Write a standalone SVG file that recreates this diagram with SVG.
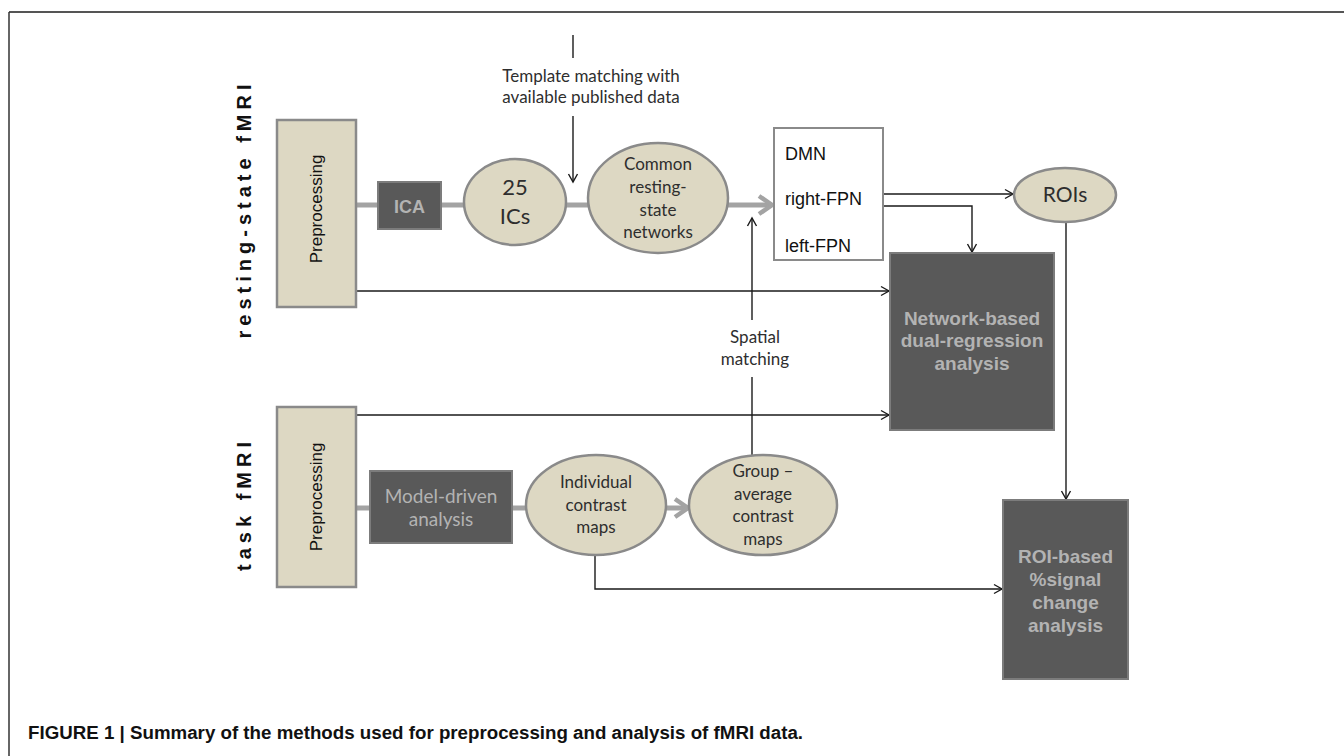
<svg xmlns="http://www.w3.org/2000/svg" width="1344" height="756" viewBox="0 0 1344 756">
<style>
.beige{fill:#ddd8c3;stroke:#8a8a8a;stroke-width:2.5}
.dark{fill:#595959;stroke:#7c7c7c;stroke-width:2}
.white{fill:#ffffff;stroke:#8a8a8a;stroke-width:2}
.thin{fill:none;stroke:#1a1a1a;stroke-width:1.4}
.thick{fill:none;stroke:#a3a3a3;stroke-width:5}
.cal{font-family:Lato,"Open Sans",sans-serif;fill:#2e2e2e;text-anchor:middle}
.ar{font-family:"Liberation Sans",Arial,sans-serif;fill:#111}
.darktxt{font-family:"Liberation Sans",Arial,sans-serif;font-weight:bold;fill:#b3b3b3;text-anchor:middle}
.side{font-family:"Liberation Sans",Arial,sans-serif;font-weight:bold;font-size:20px;letter-spacing:5px;fill:#111;text-anchor:middle}
</style>
<defs>
<marker id="ah" markerUnits="userSpaceOnUse" markerWidth="12" markerHeight="12" refX="9" refY="6" orient="auto">
<path d="M1,1.5 L9,6 L1,10.5" fill="none" stroke="#1a1a1a" stroke-width="1.4"/>
</marker>
<marker id="ahThick" markerUnits="userSpaceOnUse" markerWidth="20" markerHeight="24" refX="16" refY="12" orient="auto">
<path d="M3,3 L16,12 L3,21" fill="none" stroke="#a3a3a3" stroke-width="4.5"/>
</marker>
</defs>
<rect x="0" y="0" width="1344" height="756" fill="#ffffff"/>
<g id="frame">
<line x1="9" y1="12" x2="1344" y2="12" stroke="#555" stroke-width="2"/>
<line x1="9" y1="12" x2="9" y2="756" stroke="#333" stroke-width="1.5"/>
</g>
<g id="connectors">
<line class="thick" x1="356" y1="205" x2="772" y2="205" marker-end="url(#ahThick)"/>
<line class="thick" x1="356" y1="508" x2="688" y2="508" marker-end="url(#ahThick)"/>
<line class="thin" x1="573" y1="35" x2="573" y2="58"/>
<line class="thin" x1="573" y1="116" x2="573" y2="182" marker-end="url(#ah)"/>
<line class="thin" x1="752" y1="320" x2="752" y2="218" marker-end="url(#ah)"/>
<line class="thin" x1="752" y1="456" x2="752" y2="377"/>
<line class="thin" x1="356" y1="291" x2="889" y2="291" marker-end="url(#ah)"/>
<line class="thin" x1="356" y1="415" x2="889" y2="415" marker-end="url(#ah)"/>
<line class="thin" x1="883" y1="194" x2="1013" y2="194" marker-end="url(#ah)"/>
<polyline class="thin" points="883,206 972,206 972,252" marker-end="url(#ah)"/>
<line class="thin" x1="1066" y1="222" x2="1066" y2="499" marker-end="url(#ah)"/>
<polyline class="thin" points="595,555 595,589 1002,589" marker-end="url(#ah)"/>
</g>
<g id="label-rest"><text class="side" transform="translate(251,209) rotate(-90)">resting-state fMRI</text></g>
<g id="label-task"><text class="side" transform="translate(251,504) rotate(-90)">task fMRI</text></g>
<g id="label-template">
<text class="cal" x="591" y="82" font-size="17">Template matching with</text>
<text class="cal" x="591" y="103" font-size="17">available published data</text>
</g>
<g id="label-spatial">
<text class="cal" x="755" y="343" font-size="17">Spatial</text>
<text class="cal" x="755" y="365" font-size="17">matching</text>
</g>
<g id="rest-preprocessing">
<rect class="beige" x="277" y="120" width="79" height="187"/>
<text class="ar" font-size="17" text-anchor="middle" transform="translate(322,209) rotate(-90)">Preprocessing</text>
</g>
<g id="ica">
<rect class="dark" x="378" y="182" width="63" height="47"/>
<text class="darktxt" x="409.5" y="213" font-size="18">ICA</text>
</g>
<g id="ics">
<ellipse class="beige" cx="515" cy="202" rx="51" ry="43"/>
<text class="cal" x="515" y="195" font-size="22">25</text>
<text class="cal" x="515" y="224" font-size="22">ICs</text>
</g>
<g id="common">
<ellipse class="beige" cx="658" cy="198" rx="70" ry="55"/>
<text class="cal" x="658" y="170" font-size="17">Common</text>
<text class="cal" x="658" y="193" font-size="17">resting-</text>
<text class="cal" x="658" y="216" font-size="17">state</text>
<text class="cal" x="658" y="238" font-size="17">networks</text>
</g>
<g id="networks">
<rect class="white" x="774" y="128" width="109" height="132"/>
<text class="ar" x="785" y="160" font-size="18">DMN</text>
<text class="ar" x="785" y="205" font-size="18">right-FPN</text>
<text class="ar" x="785" y="252" font-size="18">left-FPN</text>
</g>
<g id="rois">
<ellipse class="beige" cx="1065" cy="195" rx="51" ry="27"/>
<text class="cal" x="1065" y="202" font-size="21">ROIs</text>
</g>
<g id="dual-regression">
<rect class="dark" x="890" y="253" width="164" height="177"/>
<text class="darktxt" x="972" y="325" font-size="19">Network-based</text>
<text class="darktxt" x="972" y="347" font-size="19">dual-regression</text>
<text class="darktxt" x="972" y="370" font-size="19">analysis</text>
</g>
<g id="task-preprocessing">
<rect class="beige" x="277" y="407" width="79" height="180"/>
<text class="ar" font-size="17" text-anchor="middle" transform="translate(322,497) rotate(-90)">Preprocessing</text>
</g>
<g id="model-driven">
<rect class="dark" x="370" y="471" width="142" height="72"/>
<text class="cal" x="441" y="503" font-size="19" style="fill:#b3b3b3">Model-driven</text>
<text class="cal" x="441" y="526" font-size="19" style="fill:#b3b3b3">analysis</text>
</g>
<g id="individual">
<ellipse class="beige" cx="596" cy="505" rx="70" ry="50"/>
<text class="cal" x="596" y="488" font-size="17">Individual</text>
<text class="cal" x="596" y="511" font-size="17">contrast</text>
<text class="cal" x="596" y="533" font-size="17">maps</text>
</g>
<g id="group">
<ellipse class="beige" cx="763" cy="505" rx="74" ry="50"/>
<text class="cal" x="763" y="477" font-size="17">Group –</text>
<text class="cal" x="763" y="500" font-size="17">average</text>
<text class="cal" x="763" y="522" font-size="17">contrast</text>
<text class="cal" x="763" y="545" font-size="17">maps</text>
</g>
<g id="roi-analysis">
<rect class="dark" x="1003" y="500" width="125" height="179"/>
<text class="darktxt" x="1065.5" y="563" font-size="19">ROI-based</text>
<text class="darktxt" x="1065.5" y="586" font-size="19">%signal</text>
<text class="darktxt" x="1065.5" y="609" font-size="19">change</text>
<text class="darktxt" x="1065.5" y="632" font-size="19">analysis</text>
</g>
<g id="caption">
<text x="28" y="739" font-family="'Liberation Sans',Arial,sans-serif" font-weight="bold" font-size="17.5" fill="#111" textLength="775" lengthAdjust="spacingAndGlyphs">FIGURE 1 | Summary of the methods used for preprocessing and analysis of fMRI data.</text>
</g>
</svg>
